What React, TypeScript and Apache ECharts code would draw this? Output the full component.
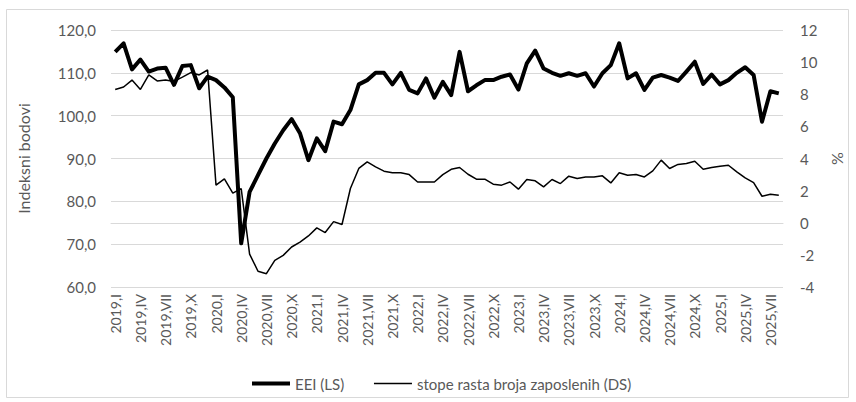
import React, { useEffect, useRef } from "react";
import * as echarts from "echarts";

const years = [2019, 2020, 2021, 2022, 2023, 2024, 2025];
const romanMonths = ["I", "II", "III", "IV", "V", "VI", "VII", "VIII", "IX", "X", "XI", "XII"];
const lastMonthCount2025 = 8;

const categories: string[] = [];
years.forEach((y) => {
  const n = y === 2025 ? lastMonthCount2025 : 12;
  for (let m = 0; m < n; m++) categories.push(`${y},${romanMonths[m]}`);
});

const eeiValues = [
  114.9, 116.9, 110.8, 113.1, 110.3, 111.0, 111.2, 107.2, 111.6, 111.8, 106.4, 109.1,
  108.3, 106.6, 104.3, 70.2, 82.2, 86.1, 90.0, 93.5, 96.6, 99.2, 95.9, 89.6,
  94.7, 91.7, 98.6, 98.0, 101.3, 107.3, 108.3, 110.0, 110.0, 107.3, 110.0, 106.0,
  105.2, 108.7, 104.2, 107.9, 104.8, 114.9, 105.7, 107.1, 108.3, 108.3, 109.1, 109.6,
  106.1, 112.2, 115.2, 111.0, 110.0, 109.3, 109.9, 109.3, 109.9, 106.8, 109.9, 111.8,
  116.9, 108.7, 109.9, 106.0, 108.9, 109.5, 108.9, 108.1, 110.3, 112.6, 107.4, 109.6,
  107.3, 108.3, 110.0, 111.3, 109.5, 98.6, 105.7, 105.2,
];

const dsValues = [
  8.3, 8.45, 8.88, 8.3, 9.2, 8.83, 8.88, 8.8, 9.07, 9.35, 9.2, 9.51,
  2.34, 2.73, 1.84, 2.13, -1.95, -3.02, -3.17, -2.34, -2.03, -1.51, -1.2, -0.82,
  -0.32, -0.61, 0.07, -0.11, 2.13, 3.38, 3.79, 3.48, 3.21, 3.11, 3.11, 3.0,
  2.54, 2.54, 2.54, 3.0, 3.33, 3.44, 3.02, 2.71, 2.71, 2.4, 2.34, 2.54,
  2.09, 2.69, 2.61, 2.23, 2.69, 2.44, 2.9, 2.75, 2.85, 2.85, 2.92, 2.48,
  3.11, 2.96, 3.0, 2.85, 3.23, 3.9, 3.38, 3.63, 3.69, 3.83, 3.33, 3.44,
  3.52, 3.58, 3.17, 2.79, 2.5, 1.65, 1.78, 1.71,
];

const seriesNames = ["EEI (LS)", "stope rasta broja zaposlenih (DS)"];
const leftAxisName = "Indeksni bodovi";
const rightAxisName = "%";

const FONT = "Lato, 'Open Sans', sans-serif";
const TEXT = "#595959";
const GRID = "#d9d9d9";

export default function App() {
  const ref = useRef<HTMLDivElement>(null);
  useEffect(() => {
    if (!ref.current) return;
    const chart = echarts.init(ref.current, undefined, { renderer: "svg" });
    chart.setOption({
      animation: false,
      backgroundColor: "#ffffff",
      textStyle: { fontFamily: FONT },
      graphic: [
        {
          type: "rect",
          shape: { x: 6.5, y: 9.5, width: 842, height: 388 },
          style: { fill: "none", stroke: "#d9d9d9", lineWidth: 1 },
          silent: true,
        },
      ],
      grid: { left: 111, right: 73, top: 30, bottom: 115 },
      legend: {
        left: 245,
        top: 371,
        itemWidth: 38,
        itemHeight: 14,
        itemGap: 29,
        itemStyle: { opacity: 0, borderWidth: 0 },
        textStyle: { fontFamily: FONT, fontSize: 15, color: TEXT },
        data: [
          { name: seriesNames[0], lineStyle: { width: 4, color: "#000000" } },
          { name: seriesNames[1], lineStyle: { width: 1.5, color: "#000000" } },
        ],
      },
      xAxis: {
        type: "category",
        data: categories,
        boundaryGap: true,
        axisLine: { lineStyle: { color: GRID } },
        axisTick: { show: false },
        axisLabel: {
          interval: 2,
          rotate: 90,
          fontFamily: FONT,
          fontSize: 14,
          color: TEXT,
          margin: 7,
        },
      },
      yAxis: [
        {
          type: "value",
          min: 60,
          max: 120,
          interval: 10,
          name: leftAxisName,
          nameLocation: "middle",
          nameGap: 80,
          nameTextStyle: { fontFamily: FONT, fontSize: 16, color: TEXT },
          axisLine: { show: false },
          axisTick: { show: false },
          splitLine: { lineStyle: { color: GRID, width: 1 } },
          axisLabel: {
            fontFamily: FONT,
            fontSize: 15,
            color: TEXT,
            margin: 15,
            formatter: (v: number) => v.toFixed(1).replace(".", ","),
          },
        },
        {
          type: "value",
          min: -4,
          max: 12,
          interval: 2,
          name: rightAxisName,
          nameLocation: "middle",
          nameGap: 44,
          nameRotate: 90,
          nameTextStyle: { fontFamily: FONT, fontSize: 16, color: TEXT },
          axisLine: { show: false },
          axisTick: { show: false },
          splitLine: { show: false },
          axisLabel: { fontFamily: FONT, fontSize: 15, color: TEXT, margin: 17 },
        },
      ],
      series: [
        {
          name: seriesNames[0],
          type: "line",
          yAxisIndex: 0,
          data: eeiValues,
          symbol: "none",
          lineStyle: { color: "#000000", width: 4, join: "round" },
          itemStyle: { color: "#000000" },
          z: 3,
        },
        {
          name: seriesNames[1],
          type: "line",
          yAxisIndex: 1,
          data: dsValues,
          symbol: "none",
          lineStyle: { color: "#000000", width: 1.5 },
          itemStyle: { color: "#000000" },
          z: 2,
        },
      ],
    });
    return () => chart.dispose();
  }, []);
  return (
    <div
      ref={ref}
      style={{ position: "absolute", left: 0, top: 0, width: 856, height: 402 }}
    />
  );
}
